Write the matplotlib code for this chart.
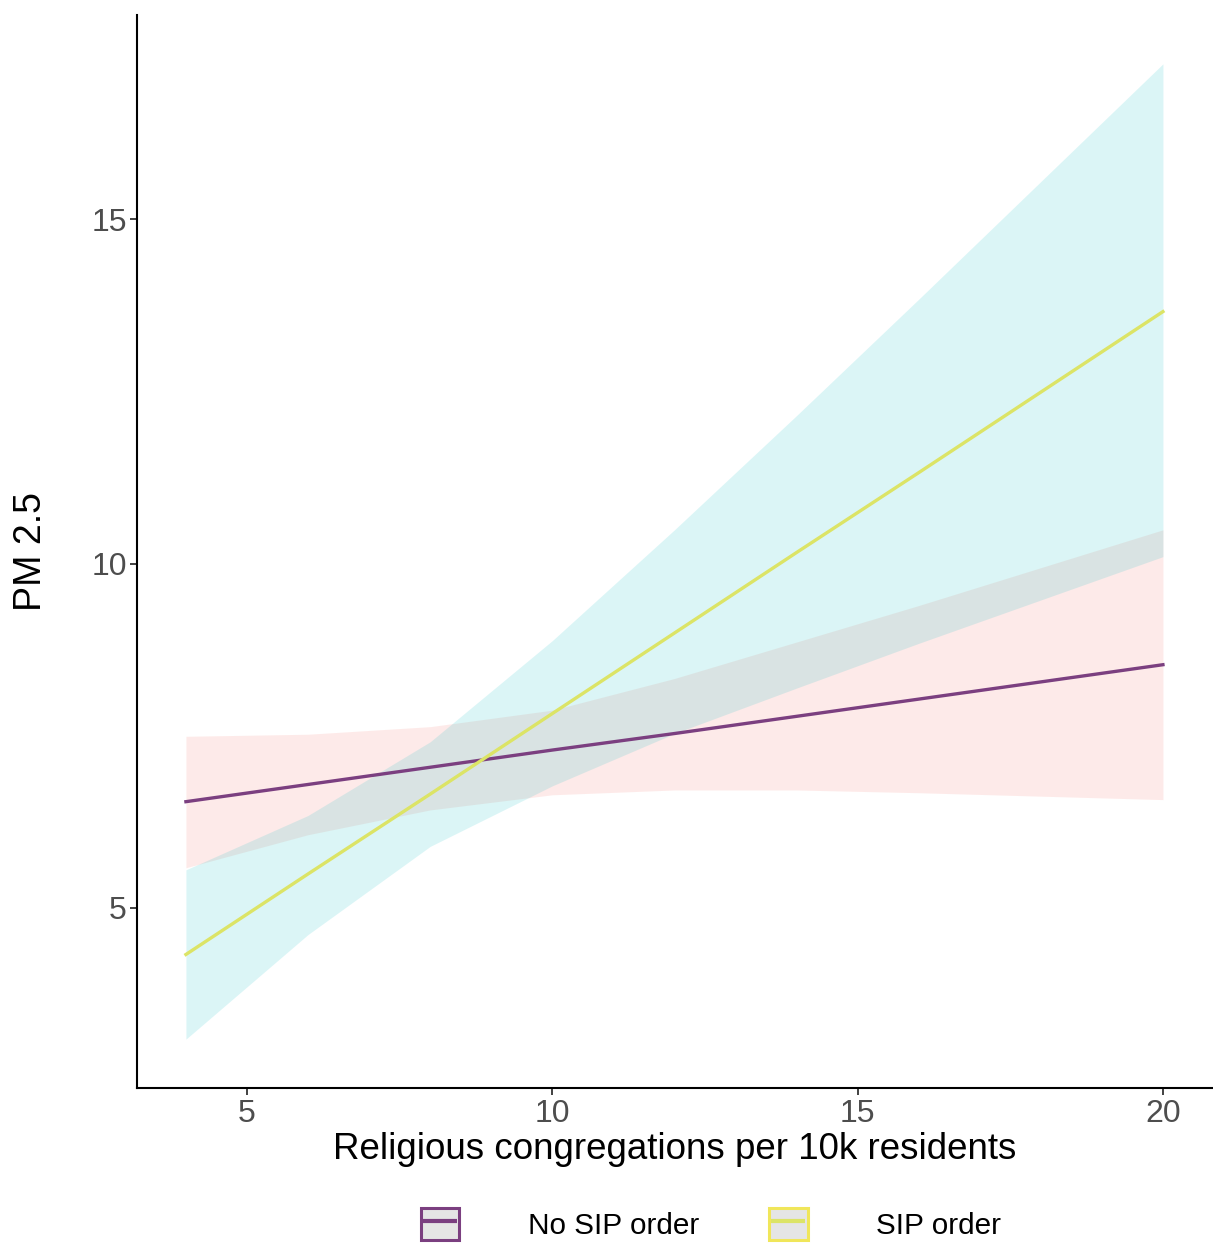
import numpy as np
import matplotlib
matplotlib.use("Agg")
import matplotlib.pyplot as plt
from matplotlib.patches import Patch
from matplotlib.lines import Line2D

plt.rcParams['font.family'] = ['Liberation Sans', 'DejaVu Sans']

# congregations per 10k residents (prediction grid)
x = [4, 6, 8, 10, 12, 14, 16, 18, 20]

# No SIP order: fit and confidence band
no_sip_fit = [6.54, 6.79, 7.04, 7.29, 7.53, 7.78, 8.03, 8.28, 8.53]
no_sip_lo = [5.58, 6.06, 6.42, 6.64, 6.71, 6.71, 6.67, 6.62, 6.57]
no_sip_hi = [7.49, 7.52, 7.63, 7.87, 8.33, 8.86, 9.39, 9.94, 10.49]

# SIP order: fit and confidence band
sip_fit = [4.32, 5.49, 6.65, 7.82, 8.99, 10.16, 11.32, 12.49, 13.66]
sip_lo = [3.09, 4.61, 5.89, 6.77, 7.53, 8.19, 8.84, 9.47, 10.10]
sip_hi = [5.55, 6.34, 7.41, 8.88, 10.49, 12.15, 13.84, 15.55, 17.26]

labels = ["No SIP order", "SIP order"]
line_colors = ["#7B3F80", "#DCE466"]
key_edges = ["#7B3F80", "#F0E65A"]

fig = plt.figure(figsize=(12.13, 12.47), dpi=100)
ax = fig.add_axes([0.113, 0.1275, 0.886, 0.8605])

ax.fill_between(x, no_sip_lo, no_sip_hi, color="#F8766D", alpha=0.15, lw=0)
ax.fill_between(x, sip_lo, sip_hi, color="#00BFC4", alpha=0.14, lw=0)
ax.plot(x, no_sip_fit, color=line_colors[0], lw=2.4)
ax.plot(x, sip_fit, color=line_colors[1], lw=2.4)

ax.set_xlim(3.2, 20.8)
ax.set_ylim(2.38, 17.97)
ax.set_xticks([5, 10, 15, 20])
ax.set_yticks([5, 10, 15])

for s in ["top", "right"]:
    ax.spines[s].set_visible(False)
for s in ["left", "bottom"]:
    ax.spines[s].set_linewidth(1.5)
    ax.spines[s].set_color("black")
ax.tick_params(axis="both", length=5, width=1.3, color="#333333",
               labelsize=23, labelcolor="#4D4D4D")
ax.tick_params(axis="y", pad=2.5)
ax.tick_params(axis="x", pad=3)

ax.set_xlabel("Religious congregations per 10k residents", fontsize=26.5, labelpad=2)
ax.set_ylabel("PM 2.5", fontsize=27, labelpad=30)

# legend keys: grey box with coloured border and a short line inside
handles = []
for lc, ec in zip(line_colors, key_edges):
    box = Patch(facecolor="#E5E5E5", edgecolor=ec, lw=2.2)
    ln = Line2D([], [], color=lc, ls="none", marker="_", markersize=24,
                markeredgewidth=3)
    handles.append((box, ln))

fig.legend(handles, labels, loc="center", bbox_to_anchor=(0.586, 0.0185),
           ncol=2, frameon=False, fontsize=21.4, handlelength=1.3,
           handleheight=1.3, handletextpad=2.3, columnspacing=2.35,
           borderpad=0)

fig.savefig("out.png", dpi=100)
